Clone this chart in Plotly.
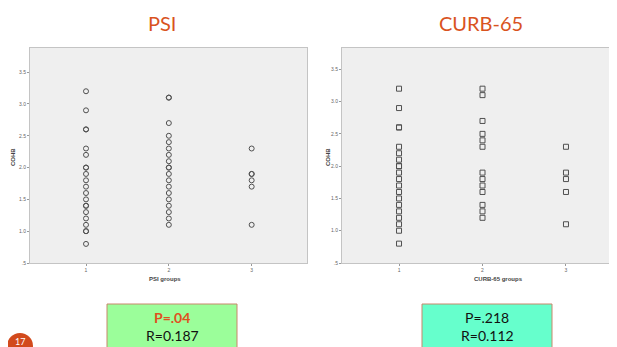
import plotly.graph_objects as go

# ---- data ----
psi_g1 = [3.2, 2.9, 2.6, 2.6, 2.3, 2.2, 2.0, 2.0, 1.9, 1.8, 1.7, 1.6, 1.5, 1.4, 1.4, 1.3, 1.2, 1.1, 1.0, 1.0, 0.8]
psi_g2 = [3.1, 3.1, 2.7, 2.5, 2.4, 2.3, 2.2, 2.1, 2.0, 2.0, 1.9, 1.8, 1.7, 1.6, 1.5, 1.4, 1.3, 1.2, 1.1]
psi_g3 = [2.3, 1.9, 1.9, 1.8, 1.7, 1.1]
curb_g1 = [3.2, 2.9, 2.6, 2.6, 2.3, 2.2, 2.1, 2.0, 2.0, 1.9, 1.8, 1.7, 1.6, 1.5, 1.4, 1.3, 1.2, 1.1, 1.0, 0.8]
curb_g2 = [3.2, 3.1, 2.7, 2.5, 2.4, 2.3, 1.9, 1.8, 1.7, 1.6, 1.4, 1.3, 1.2]
curb_g3 = [2.3, 1.9, 1.8, 1.6, 1.1]
group_labels = ["1", "2", "3"]
y_tick_vals = [0.5, 1.0, 1.5, 2.0, 2.5, 3.0, 3.5]
y_tick_text = [".5", "1.0", "1.5", "2.0", "2.5", "3.0", "3.5"]
titles = ["PSI", "CURB-65"]
x_titles = ["PSI groups", "CURB-65 groups"]
y_title = "COHB"
stats_psi = ["P=.04", "R=0.187"]
stats_curb = ["P=.218", "R=0.112"]
slide_number = "17"

W, H = 617, 347
OFF = 8  # default page body margin
def px(x):
    return (x - OFF) / W
def py(y):
    return (H - (y - OFF)) / H

fig = go.Figure()

def add_group(vals, g, xa, ya, symbol):
    fig.add_trace(go.Scatter(
        x=[g] * len(vals), y=vals, mode="markers", xaxis=xa, yaxis=ya,
        marker=dict(symbol=symbol, size=5, color="#505050", line=dict(width=1, color="#505050")),
        showlegend=False, hoverinfo="skip"))

for i, vals in enumerate([psi_g1, psi_g2, psi_g3]):
    add_group(vals, i + 1, "x", "y", "circle-open")
for i, vals in enumerate([curb_g1, curb_g2, curb_g3]):
    add_group(vals, i + 1, "x2", "y2", "square-open")

axis_common = dict(showgrid=False, zeroline=False, showline=True, mirror=True,
                   linecolor="#c4c4c4", linewidth=1, ticks="outside", ticklen=2,
                   tickcolor="#999999", automargin=False,
                   tickfont=dict(size=5, color="#666666", family="Liberation Sans"))

fig.update_layout(
    width=W, height=H,
    margin=dict(l=0, r=0, t=0, b=0, pad=0, autoexpand=False),
    paper_bgcolor="white",
    plot_bgcolor="#efefef",
    xaxis=dict(domain=[px(30), px(307)], range=[0.324, 3.668], anchor="y",
               tickvals=[1, 2, 3], ticktext=group_labels, **axis_common),
    yaxis=dict(domain=[py(263), py(48)], range=[0.5, 3.88], anchor="x",
               tickvals=y_tick_vals, ticktext=y_tick_text, **axis_common),
    xaxis2=dict(domain=[px(342), 1.0], range=[0.317, 3.707], anchor="y2",
                tickvals=[1, 2, 3], ticktext=group_labels, **axis_common),
    yaxis2=dict(domain=[py(263), py(48)], range=[0.5, 3.83], anchor="x2",
                tickvals=y_tick_vals, ticktext=y_tick_text, **axis_common),
)

ann = []
def add_text(text, x, y, font, angle=0):
    ann.append(dict(text=text, x=px(x), y=py(y), xref="paper", yref="paper",
                    xanchor="center", yanchor="middle", showarrow=False,
                    font=font, textangle=angle))

title_font = dict(family="Lato", size=20, color="#d9531e")
add_text(titles[0], 162, 23, title_font)
add_text(titles[1], 481, 23, title_font)
lab_font = dict(family="Liberation Sans", size=6, color="#444444")
add_text("<b>" + x_titles[0] + "</b>", 165, 279, lab_font)
add_text("<b>" + x_titles[1] + "</b>", 498, 279, lab_font)
add_text("<b>" + y_title + "</b>", 13, 157, lab_font, -90)
add_text("<b>" + y_title + "</b>", 328, 157, lab_font, -90)

box_font = dict(family="Lato", size=14, color="#111111")
add_text("<b>" + stats_psi[0] + "</b>", 172, 317, dict(family="Lato", size=14, color="#e0501e"))
add_text(stats_psi[1], 172, 335, box_font)
add_text(stats_curb[0], 487, 317, box_font)
add_text(stats_curb[1], 487, 335, box_font)
add_text(slide_number, 20, 341, dict(family="Lato", size=9, color="white"))
fig.update_layout(annotations=ann)

shapes = [
    dict(type="rect", xref="paper", yref="paper", x0=px(107), x1=px(237), y0=py(360), y1=py(304),
         fillcolor="#9bfe9a", line=dict(color="#c8876a", width=1), layer="below"),
    dict(type="rect", xref="paper", yref="paper", x0=px(422), x1=px(552), y0=py(360), y1=py(304),
         fillcolor="#66ffcc", line=dict(color="#c8876a", width=1), layer="below"),
    dict(type="circle", xref="paper", yref="paper", x0=px(7), x1=px(33), y0=py(359), y1=py(333),
         fillcolor="#d24a1c", line=dict(width=0), layer="below"),
]
fig.update_layout(shapes=shapes)

fig.write_html("out.html")
